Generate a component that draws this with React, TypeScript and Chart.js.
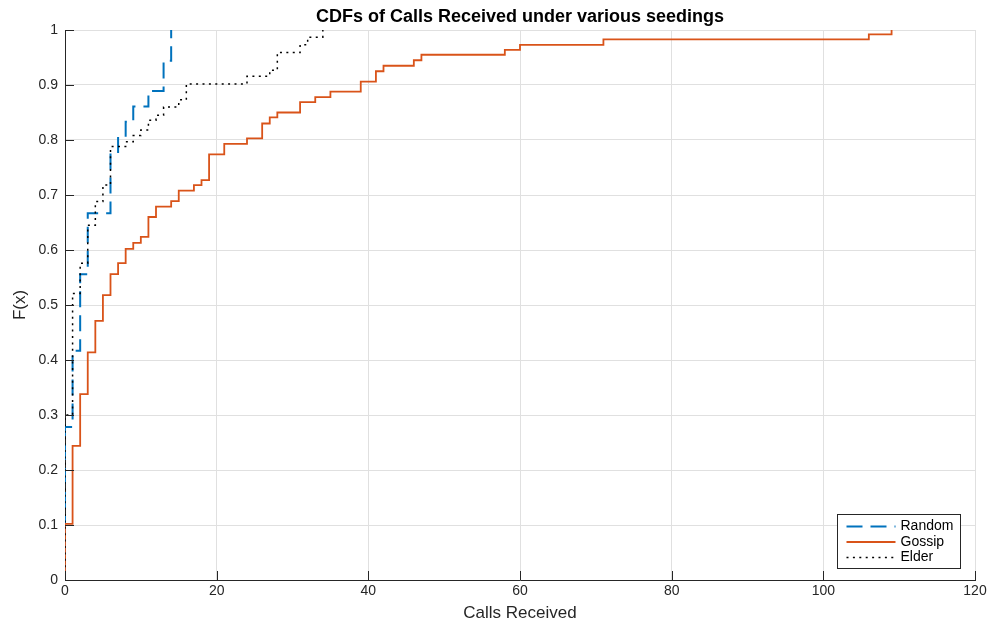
import React, { useEffect, useRef } from 'react';
import { Chart, registerables } from 'chart.js';

Chart.register(...registerables);

const FONT = '"Liberation Sans", Arial, Helvetica, sans-serif';

const TITLE = 'CDFs of Calls Received under various seedings';
const X_LABEL = 'Calls Received';
const Y_LABEL = 'F(x)';

const xTicks = [0, 20, 40, 60, 80, 100, 120];
const yTicks = [0, 0.1, 0.2, 0.3, 0.4, 0.5, 0.6, 0.7, 0.8, 0.9, 1];
const yTickLabels = ['0', '0.1', '0.2', '0.3', '0.4', '0.5', '0.6', '0.7', '0.8', '0.9', '1'];

const seriesNames = ['Random', 'Gossip', 'Elder'];

// Empirical CDF steps: at x, the CDF rises to y
const randomX = [0, 0, 1, 2, 3, 6, 7, 8, 9, 11, 13, 14];
const randomY = [0, 0.278, 0.417, 0.556, 0.667, 0.778, 0.806, 0.833, 0.861, 0.889, 0.944, 1.0];

const gossipX = [0, 0, 1, 2, 3, 4, 5, 6, 7, 8, 9, 10, 11, 12, 14, 15, 17, 18, 19, 21, 24, 26, 27, 28, 31, 33, 35, 39, 41, 42, 46, 47, 58, 60, 71, 106, 109];
const gossipY = [0, 0.102, 0.244, 0.338, 0.414, 0.471, 0.518, 0.556, 0.576, 0.602, 0.613, 0.624, 0.660, 0.679, 0.689, 0.708, 0.718, 0.727, 0.774, 0.793, 0.803, 0.830, 0.841, 0.850, 0.869, 0.878, 0.888, 0.906, 0.925, 0.935, 0.945, 0.955, 0.964, 0.973, 0.983, 0.992, 1.0];

const elderX = [0, 0, 1, 2, 3, 4, 5, 6, 8, 9, 10, 11, 12, 13, 15, 16, 24, 27, 28, 31, 32, 34];
const elderY = [0, 0.30, 0.521, 0.576, 0.645, 0.688, 0.718, 0.788, 0.797, 0.808, 0.818, 0.836, 0.845, 0.86, 0.873, 0.902, 0.916, 0.927, 0.959, 0.973, 0.987, 1.0];

const COLORS = ['#0072BD', '#D95319', '#000000'];
const DASHES = [[16, 8], [], [2, 4.4]];
const WIDTHS = [2, 1.8, 1.5];

const toPts = (xs: number[], ys: number[]) => xs.map((x, i) => ({ x, y: ys[i] }));

const decorPlugin = {
  id: 'decor',
  afterDraw(chart: any) {
    const { ctx, chartArea: a, scales } = chart;
    const xs = scales.x;
    const ys = scales.y;
    ctx.save();
    // inward tick marks
    ctx.strokeStyle = '#262626';
    ctx.lineWidth = 1;
    ctx.setLineDash([]);
    for (const v of xTicks) {
      const px = Math.round(xs.getPixelForValue(v)) + 0.5;
      ctx.beginPath();
      ctx.moveTo(px, a.bottom);
      ctx.lineTo(px, a.bottom - 9);
      ctx.stroke();
    }
    for (const v of yTicks) {
      const py = Math.round(ys.getPixelForValue(v)) + 0.5;
      ctx.beginPath();
      ctx.moveTo(a.left, py);
      ctx.lineTo(a.left + 9, py);
      ctx.stroke();
    }
    // title
    ctx.fillStyle = '#000';
    ctx.font = `bold 18px ${FONT}`;
    ctx.textAlign = 'center';
    ctx.textBaseline = 'middle';
    ctx.fillText(TITLE, (a.left + a.right) / 2, 17);

    // legend
    const bw = 123;
    const bh = 54;
    const bx = Math.round(a.right - 15 - bw) + 0.5;
    const by = Math.round(a.bottom - 12 - bh) + 0.5;
    ctx.fillStyle = '#ffffff';
    ctx.fillRect(bx, by, bw, bh);
    ctx.strokeStyle = '#262626';
    ctx.lineWidth = 1;
    ctx.strokeRect(bx, by, bw, bh);
    ctx.font = `14px ${FONT}`;
    ctx.textAlign = 'left';
    ctx.textBaseline = 'middle';
    seriesNames.forEach((name, i) => {
      const cy = by + 12 + i * 15.5;
      ctx.beginPath();
      ctx.strokeStyle = COLORS[i];
      ctx.lineWidth = WIDTHS[i];
      ctx.setLineDash(DASHES[i]);
      ctx.moveTo(bx + 9, cy);
      ctx.lineTo(bx + 58, cy);
      ctx.stroke();
      ctx.setLineDash([]);
      ctx.fillStyle = '#000';
      ctx.fillText(name, bx + 63, cy);
    });
    ctx.restore();
  },
};

export default function App() {
  const ref = useRef<HTMLCanvasElement | null>(null);
  useEffect(() => {
    if (!ref.current) return;
    Chart.defaults.font.family = FONT;
    const data = [toPts(randomX, randomY), toPts(gossipX, gossipY), toPts(elderX, elderY)];
    const chart = new Chart(ref.current, {
      type: 'line',
      data: {
        datasets: seriesNames.map((name, i) => ({
          label: name,
          data: data[i],
          borderColor: COLORS[i],
          backgroundColor: COLORS[i],
          borderWidth: WIDTHS[i],
          borderDash: DASHES[i],
          borderCapStyle: 'butt',
          pointRadius: 0,
          stepped: 'before',
          fill: false,
          order: 3 - i,
        })),
      },
      options: {
        animation: false,
        responsive: true,
        maintainAspectRatio: false,
        events: [],
        layout: { padding: { top: 30, right: 17, left: 0, bottom: 0 } },
        plugins: {
          legend: { display: false },
          title: { display: false },
          tooltip: { enabled: false },
        },
        scales: {
          x: {
            type: 'linear',
            min: 0,
            max: 120,
            afterBuildTicks: (s: any) => { s.ticks = xTicks.map((v) => ({ value: v })); },
            afterFit: (s: any) => { s.height = 50; },
            ticks: {
              color: '#262626',
              font: { size: 14 },
              padding: 3,
              maxRotation: 0,
              callback: (v: any) => String(v),
            },
            grid: { color: '#e0e0e0', lineWidth: 1, drawTicks: false },
            border: { display: true, color: '#262626', width: 1 },
            title: {
              display: true,
              text: X_LABEL,
              color: '#262626',
              font: { size: 17 },
              padding: { top: 0, bottom: 6 },
            },
          },
          y: {
            type: 'linear',
            min: 0,
            max: 1,
            afterBuildTicks: (s: any) => { s.ticks = yTicks.map((v) => ({ value: v })); },
            afterFit: (s: any) => { s.width = 65; },
            ticks: {
              color: '#262626',
              font: { size: 14 },
              padding: 7,
              callback: (_v: any, idx: number) => yTickLabels[idx],
            },
            grid: { color: '#e0e0e0', lineWidth: 1, drawTicks: false },
            border: { display: true, color: '#262626', width: 1 },
            title: {
              display: true,
              text: Y_LABEL,
              color: '#262626',
              font: { size: 17 },
              padding: { top: 10, bottom: 0 },
            },
          },
        },
      },
      plugins: [decorPlugin],
    } as any);
    return () => chart.destroy();
  }, []);

  return (
    <div style={{ position: 'absolute', left: 0, top: 0, width: 992, height: 630, background: '#fff' }}>
      <canvas ref={ref} />
    </div>
  );
}
